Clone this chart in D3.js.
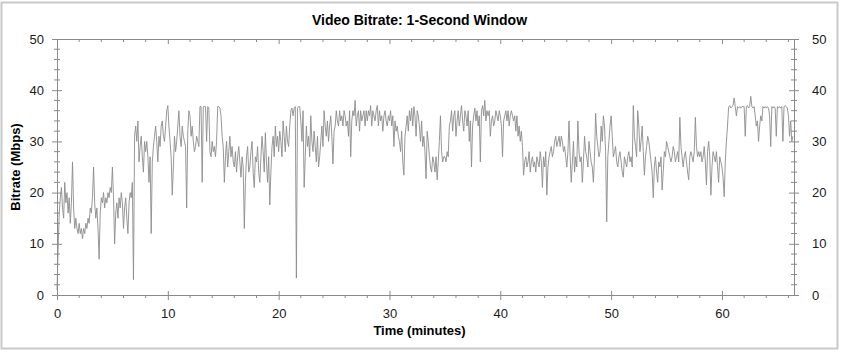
<!DOCTYPE html>
<html>
<head>
<meta charset="utf-8">
<script src="https://cdn.jsdelivr.net/npm/d3@7"></script>
<style>
  body { margin: 0; background: #fff; }
  text { font-family: "Liberation Sans", Arial, sans-serif; }
</style>
</head>
<body>
<svg id="chart" width="841" height="352"></svg>
<script>
// bitrate samples (Mbps), one every 0.1 minutes from t = 0; each row is 2 minutes
const stepMinutes = 0.1;
const bitrate = [
  1, 9, 16, 19, 21, 17, 15, 22, 18, 20, 16, 19, 14, 18, 26, 17, 13, 15, 13, 12,
  14, 12, 13, 11, 13, 12, 14, 13, 15, 14, 17, 16, 19, 25, 18, 15, 17, 13, 7, 16,
  19, 18, 20, 17, 19, 18, 20, 19, 21, 20, 25, 19, 10, 16, 18, 15, 19, 17, 20, 18,
  13, 17, 19, 15, 12, 18, 20, 19, 22, 3, 31, 33, 30, 34, 26, 29, 31, 27, 24, 30,
  28, 30, 27, 22, 27, 12, 26, 29, 31, 33, 30, 26, 31, 29, 33, 34, 31, 30, 33, 36,
  37, 33, 30, 27, 19.5, 25, 31, 28, 30, 33, 36, 31, 29, 33, 31, 30, 29, 17, 32, 36,
  35, 31, 33, 30, 28, 29, 31, 30, 29, 36.8, 36.8, 22, 36.8, 36.8, 36.8, 30, 36.8, 36.5, 28, 27,
  30, 28, 29, 27, 30, 36.8, 36.8, 36.5, 35, 31, 29, 22, 27, 30, 25, 28, 31, 27, 29, 26,
  25, 28, 24, 27, 29, 26, 23, 27, 25, 13, 22, 27, 29, 24, 25, 28, 30, 24, 21, 27,
  26, 29, 24, 22, 27, 31, 28, 24, 31.7, 26, 22, 27, 17.6, 24, 29, 31, 27, 33, 29, 31,
  28, 32, 30, 27, 34, 31, 28, 33, 30, 29, 33, 36, 36.5, 35, 36.5, 36.8, 3.3, 36.5, 36.8, 36.8,
  34, 30, 36, 21, 27, 33, 29, 31, 27, 35, 30, 28, 32, 29, 26, 31, 25, 27, 30, 33,
  29, 36, 33, 31, 34, 30, 33, 35, 31, 25.6, 32, 33, 36, 34, 33, 36, 34, 35, 33, 36,
  35, 33, 34, 31, 36, 27, 34, 36, 35, 38, 33, 35, 36, 32, 36, 34, 35, 36, 33, 36,
  34, 36, 35, 37, 33, 36, 35, 34, 36, 37, 33, 36, 34, 35, 32, 35, 36, 34, 33, 35,
  34, 36, 33, 35, 29, 34, 32, 33, 31, 30, 28, 32, 26, 23.4, 31, 33, 35, 32, 36, 34,
  36.5, 33, 36.8, 35, 31, 36, 35, 33, 30, 34, 29, 31, 28, 22.7, 32, 30, 27, 25, 24, 27,
  26, 24, 27, 22.5, 26, 30, 35, 28, 26, 27, 27, 26, 28, 27, 33, 34, 36, 32, 35, 36,
  31, 34, 36, 33, 35, 37, 34, 32, 36, 35, 33, 36, 30, 34, 25, 33, 35, 36.5, 34, 36,
  33, 35, 26, 36, 37, 35, 38, 34, 36, 35, 36, 31, 34, 35, 33, 34, 36, 35, 34, 36,
  35, 33, 27, 34, 35, 36, 34, 36, 33, 35, 36, 35, 34, 35, 32, 35, 31, 33, 30, 32,
  29, 23.4, 26, 27, 25, 26, 28, 24, 26, 27, 25, 26, 24, 27, 26, 25, 28, 26, 21, 27,
  25, 28, 19.5, 25, 27, 28, 29, 27, 28, 30, 31, 29, 30, 31, 29, 31, 30, 28, 29, 27,
  25, 28, 34, 27, 22, 26, 30, 24, 27, 25, 34, 28, 26, 27, 22, 26, 31, 28, 27, 25,
  30, 28, 26, 25, 22, 27, 35.5, 31, 29, 27, 28, 33, 30, 35, 33, 28, 14.3, 27, 30, 33,
  35, 31, 27, 28, 29, 26, 25, 27, 28, 26, 24, 23, 27, 26, 25, 27, 28, 26, 27, 25,
  37, 31, 29, 27, 36, 33, 28, 30, 33, 28, 23.4, 27, 29, 31, 30, 28, 26, 24, 19, 25,
  27, 24, 22, 26, 25, 27, 20.5, 24, 28, 27, 30, 29, 28, 27, 26, 27, 29, 28, 26, 27,
  28, 26, 34.7, 29, 27, 25, 27, 28, 26, 24, 22.5, 27, 28, 27, 26, 28, 34.7, 29, 27, 28,
  27, 28, 26, 27, 29, 26, 21.5, 28, 30, 27, 19.5, 25, 28, 27, 26, 28, 25, 22, 27, 26,
  25, 23, 19.2, 26, 30, 33, 36.7, 37, 36.5, 36.8, 37, 38.5, 36.8, 35, 36.8, 36.5, 36.8, 36.5, 36.8, 36.8,
  36.8, 31, 36.8, 37, 36.5, 36.8, 38.8, 36.8, 36.5, 36.8, 35, 33, 34, 30, 33, 35, 34, 36.8, 36.5, 36.8,
  36.5, 36.8, 36.5, 35, 29, 36.8, 36.5, 36.8, 36.5, 31, 36.8, 36.5, 36.8, 36.5, 36.8, 30, 36.8, 37, 36.8, 36.5,
  35, 31, 34, 30, 31
];
const xTicks = [0, 10, 20, 30, 40, 50, 60];
const yTicks = [0, 10, 20, 30, 40, 50];
const xDomain = [0, 66.5];
const yDomain = [0, 50];

const W = 841, H = 352;
const margin = { top: 39, right: 47, bottom: 57, left: 57 };
const svg = d3.select("#chart");

// outer frame
svg.append("rect")
  .attr("x", 1.5).attr("y", 2.5)
  .attr("width", W - 5).attr("height", H - 6)
  .attr("fill", "#fff")
  .attr("stroke", "#c9c9c9")
  .attr("stroke-width", 2);

const x = d3.scaleLinear().domain(xDomain).range([margin.left, W - margin.right]);
const y = d3.scaleLinear().domain(yDomain).range([H - margin.bottom, margin.top]);

const axisColor = "#8a8a8a";
const minorX = d3.range(0, 67, 2).filter(v => v % 10 !== 0);
const minorY = d3.range(0, 51, 2).filter(v => v % 10 !== 0);

function styleAxis(g) {
  g.selectAll("path").attr("stroke", axisColor);
  g.selectAll("line").attr("stroke", axisColor);
  g.selectAll("text").attr("fill", "#1a1a1a").attr("font-size", "13px");
}

// bottom
const gBottom = svg.append("g").attr("transform", `translate(0,${y(0)})`);
gBottom.call(d3.axisBottom(x).tickValues(xTicks).tickSize(5).tickSizeOuter(0).tickPadding(9))
  .call(styleAxis);
gBottom.selectAll(".tick line").attr("y1", -4);
gBottom.selectAll("line.minor").data(minorX).enter().append("line")
  .attr("class", "minor")
  .attr("x1", d => x(d)).attr("x2", d => x(d)).attr("y1", 0).attr("y2", 3)
  .attr("stroke", axisColor);

// top
const gTop = svg.append("g").attr("transform", `translate(0,${y(50)})`);
gTop.call(d3.axisTop(x).tickValues(xTicks).tickSize(-5).tickSizeOuter(0).tickFormat(""))
  .call(styleAxis);
gTop.selectAll("line.minor").data(minorX).enter().append("line")
  .attr("class", "minor")
  .attr("x1", d => x(d)).attr("x2", d => x(d)).attr("y1", 0).attr("y2", 3)
  .attr("stroke", axisColor);

// left
const gLeft = svg.append("g").attr("transform", `translate(${x(0)},0)`);
gLeft.call(d3.axisLeft(y).tickValues(yTicks).tickSize(5).tickSizeOuter(0).tickPadding(8))
  .call(styleAxis);
gLeft.selectAll(".tick line").attr("x1", 5);
gLeft.selectAll("line.minor").data(minorY).enter().append("line")
  .attr("class", "minor")
  .attr("y1", d => y(d)).attr("y2", d => y(d)).attr("x1", -3).attr("x2", 3)
  .attr("stroke", axisColor);

// right
const gRight = svg.append("g").attr("transform", `translate(${x(xDomain[1])},0)`);
gRight.call(d3.axisRight(y).tickValues(yTicks).tickSize(5).tickSizeOuter(0).tickPadding(13))
  .call(styleAxis);
gRight.selectAll(".tick line").attr("x1", -5);
gRight.selectAll("line.minor").data(minorY).enter().append("line")
  .attr("class", "minor")
  .attr("y1", d => y(d)).attr("y2", d => y(d)).attr("x1", -3).attr("x2", 3)
  .attr("stroke", axisColor);

// the series
const line = d3.line()
  .x((d, i) => x(i * stepMinutes))
  .y(d => y(d));

svg.append("path")
  .datum(bitrate)
  .attr("fill", "none")
  .attr("stroke", "#8c8c8c")
  .attr("stroke-width", 0.9)
  .attr("d", line);

// titles
svg.append("text")
  .attr("x", (margin.left + W - margin.right) / 2 - 6)
  .attr("y", 25)
  .attr("text-anchor", "middle")
  .attr("font-size", "14px")
  .attr("font-weight", "bold")
  .text("Video Bitrate: 1-Second Window");

svg.append("text")
  .attr("x", (margin.left + W - margin.right) / 2 - 6)
  .attr("y", 335)
  .attr("text-anchor", "middle")
  .attr("font-size", "13px")
  .attr("font-weight", "bold")
  .text("Time (minutes)");

svg.append("text")
  .attr("transform", `translate(20,${(margin.top + H - margin.bottom) / 2}) rotate(-90)`)
  .attr("text-anchor", "middle")
  .attr("font-size", "13px")
  .attr("font-weight", "bold")
  .text("Bitrate (Mbps)");
</script>
</body>
</html>
